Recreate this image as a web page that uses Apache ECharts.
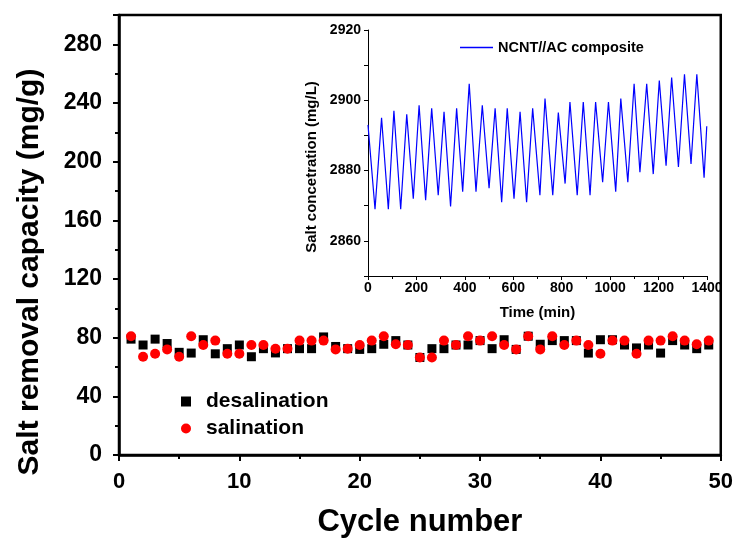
<!DOCTYPE html>
<html>
<head>
<meta charset="utf-8">
<script src="https://cdn.jsdelivr.net/npm/echarts@6/dist/echarts.min.js"></script>
<style>
html,body{margin:0;padding:0;background:#fff;}
#main{width:736px;height:543px;}
</style>
</head>
<body>
<div id="main"></div>
<script>
//循环次数
var cycles = [1,2,3,4,5,6,7,8,9,10,11,12,13,14,15,16,17,18,19,20,21,22,23,24,25,
	26,27,28,29,30,31,32,33,34,35,36,37,38,39,40,41,42,43,44,45,46,47,48,49];

//脱盐容量
var desal = [79,75,79,76,70,69.5,78.6,69,72.5,75,67,72.5,69.6,72.5,72.5,72.5,80.5,74,72.5,72,
	72.5,75.5,78,75,66.5,72.5,72.5,75,75,78,72.5,78.6,72,81,75.5,78,78,78,69.5,78.6,
	78.6,75,73,75,69.5,78,75,72.5,75];

//再生容量
var sal = [81,67,69,72,67,81,75,78,69,69,75,75,72.5,72.5,78,78,78,72,72.5,75,
	78,81,75.5,75,66.5,66.5,78,75,81,78,81,75,72,81,72,81,75,78,75,69,
	78,78,69,78,78,81,78,75.5,78];

//小图 时间(min) 和 盐浓度(mg/L)
var time = [0,29,56,84,107,135,160,187,211,238,263,290,314,341,366,391,418,446,472,500,
	525,552,575,603,628,655,680,710,731,763,786,814,834,864,889,917,940,969,993,1023,
	1044,1073,1099,1123,1151,1178,1203,1231,1254,1282,1307,1334,1358,1388,1399];
var conc = [2893,2869,2895,2869,2897,2869,2896,2872,2898.6,2871.6,2897.7,2873,2896.7,2869.8,2897.7,2874,2904.7,2874,2898.6,2875,
	2897.7,2871,2897.7,2872,2896.7,2871,2897.7,2873,2900.5,2873,2896.5,2876.3,2899.5,2873,2899.5,2873,2899.5,2876.7,2899.5,2874,
	2900.5,2876.7,2904.7,2879.5,2904.7,2879,2905.6,2881.4,2906.5,2881,2907.4,2881.9,2907.4,2878,2892.6];

var FONT = '"Liberation Sans", Arial, sans-serif';

function pairs(xs, ys){
	var out = [];
	for(var i = 0; i < xs.length; i++){
		out.push([xs[i], ys[i]]);
	}
	return out;
}

var myChart = echarts.init(document.getElementById("main"));

var option = {
	animation: false,
	backgroundColor: '#fff',
	legend: [{
		left: 176,
		top: 386,
		orient: 'vertical',
		itemWidth: 10,
		itemHeight: 10,
		itemGap: 6,
		textStyle: {fontFamily: FONT, fontWeight: 'bold', fontSize: 21, color: '#000', lineHeight: 21, padding: [0,0,0,10]},
		data: [{name: 'desalination', icon: 'rect'}, {name: 'salination', icon: 'circle'}]
	},{
		left: 455,
		top: 35,
		itemWidth: 33,
		itemHeight: 1.5,
		textStyle: {fontFamily: FONT, fontWeight: 'bold', fontSize: 14.5, color: '#000', lineHeight: 14},
		data: [{name: 'NCNT//AC composite', icon: 'rect'}]
	}],
	grid: [{
		left: 119, right: 15, top: 15, bottom: 87,
		show: true, borderColor: '#000', borderWidth: 2.5
	},{
		left: 368, right: 29, top: 30, bottom: 267
	}],
	xAxis: [{
		type: 'value', gridIndex: 0, min: 0, max: 50, interval: 10,
		name: 'Cycle number', nameLocation: 'middle', nameGap: 52,
		nameTextStyle: {fontFamily: FONT, fontWeight: 'bold', fontSize: 31, color: '#000'},
		axisLine: {lineStyle: {color: '#000', width: 2.5}},
		axisTick: {length: 6, lineStyle: {color: '#000', width: 2}},
		minorTick: {show: true, splitNumber: 2, length: 4, lineStyle: {color: '#000', width: 2}},
		splitLine: {show: false},
		axisLabel: {fontFamily: FONT, fontWeight: 'bold', fontSize: 22, color: '#000', margin: 16}
	},{
		type: 'value', gridIndex: 1, min: 0, max: 1400, interval: 200,
		name: 'Time (min)', nameLocation: 'middle', nameGap: 29,
		nameTextStyle: {fontFamily: FONT, fontWeight: 'bold', fontSize: 15, color: '#000'},
		axisLine: {lineStyle: {color: '#000', width: 1}},
		axisTick: {length: 4, lineStyle: {color: '#000'}},
		minorTick: {show: true, splitNumber: 2, length: 3, lineStyle: {color: '#000'}},
		splitLine: {show: false},
		axisLabel: {fontFamily: FONT, fontWeight: 'bold', fontSize: 14, color: '#000', margin: 5,
			formatter: function(v){ return String(v); }}
	}],
	yAxis: [{
		type: 'value', gridIndex: 0, min: 0, max: 300, interval: 40,
		axisLine: {lineStyle: {color: '#000', width: 2.5}},
		axisTick: {length: 6, lineStyle: {color: '#000', width: 2}},
		minorTick: {show: true, splitNumber: 2, length: 4, lineStyle: {color: '#000', width: 2}},
		splitLine: {show: false},
		axisLabel: {fontFamily: FONT, fontWeight: 'bold', fontSize: 23, color: '#000', margin: 17, showMaxLabel: false}
	},{
		type: 'value', gridIndex: 1, min: 2850, max: 2920, interval: 10,
		axisLine: {show: true, lineStyle: {color: '#000', width: 1}},
		axisTick: {show: true, length: 4, lineStyle: {color: '#000'}},
		splitLine: {show: false},
		axisLabel: {
			fontFamily: FONT, fontWeight: 'bold', fontSize: 14, color: '#000', margin: 7,
			formatter: function(v){ return (v - 2860) % 20 === 0 ? String(v) : ''; }
		}
	}],
	graphic: [{
		type: 'text', x: 30, y: 272, rotation: Math.PI / 2,
		style: {text: 'Salt removal capacity (mg/g)', fontFamily: FONT, fontWeight: 'bold', fontSize: 30,
			fill: '#000', align: 'center', verticalAlign: 'middle'}
	},{
		type: 'text', x: 312, y: 167, rotation: Math.PI / 2,
		style: {text: 'Salt concetration (mg/L)', fontFamily: FONT, fontWeight: 'bold', fontSize: 15,
			fill: '#000', align: 'center', verticalAlign: 'middle'}
	}],
	series: [{
		name: 'desalination', type: 'scatter', xAxisIndex: 0, yAxisIndex: 0,
		symbol: 'rect', symbolSize: 9,
		itemStyle: {color: '#000', opacity: 1},
		data: pairs(cycles, desal)
	},{
		name: 'salination', type: 'scatter', xAxisIndex: 0, yAxisIndex: 0,
		symbol: 'circle', symbolSize: 10,
		itemStyle: {color: '#ff0000', opacity: 1},
		data: pairs(cycles, sal)
	},{
		name: 'NCNT//AC composite', type: 'line', xAxisIndex: 1, yAxisIndex: 1,
		symbol: 'none', lineStyle: {color: '#0000ff', width: 1.2},
		itemStyle: {color: '#0000ff'},
		data: pairs(time, conc)
	}]
};

myChart.setOption(option);
</script>
</body>
</html>
